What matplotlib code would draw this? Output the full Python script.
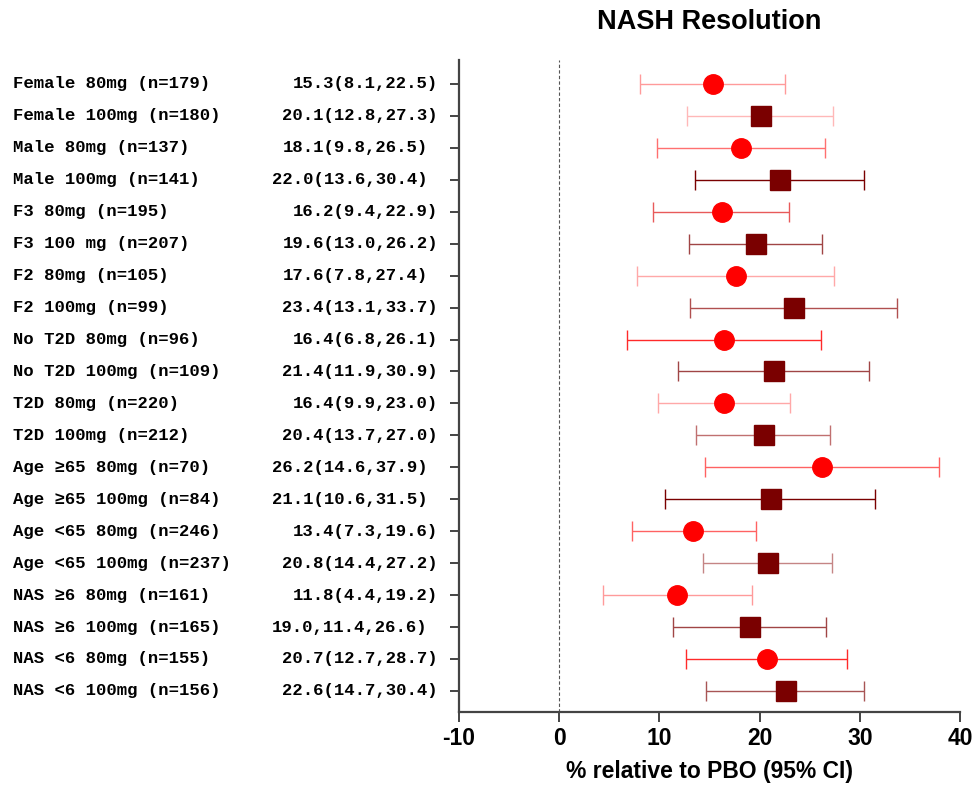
import matplotlib
matplotlib.use("Agg")
import matplotlib.pyplot as plt
import matplotlib.transforms as mtransforms

# Subgroup results: point estimate and 95% CI (% relative to placebo)
subgroups = [
    "Female 80mg (n=179)", "Female 100mg (n=180)",
    "Male 80mg (n=137)", "Male 100mg (n=141)",
    "F3 80mg (n=195)", "F3 100 mg (n=207)",
    "F2 80mg (n=105)", "F2 100mg (n=99)",
    "No T2D 80mg (n=96)", "No T2D 100mg (n=109)",
    "T2D 80mg (n=220)", "T2D 100mg (n=212)",
    "Age \u226565 80mg (n=70)", "Age \u226565 100mg (n=84)",
    "Age <65 80mg (n=246)", "Age <65 100mg (n=237)",
    "NAS \u22656 80mg (n=161)", "NAS \u22656 100mg (n=165)",
    "NAS <6 80mg (n=155)", "NAS <6 100mg (n=156)",
]
estimate = [15.3, 20.1, 18.1, 22.0, 16.2, 19.6, 17.6, 23.4, 16.4, 21.4,
            16.4, 20.4, 26.2, 21.1, 13.4, 20.8, 11.8, 19.0, 20.7, 22.6]
ci_low = [8.1, 12.8, 9.8, 13.6, 9.4, 13.0, 7.8, 13.1, 6.8, 11.9,
          9.9, 13.7, 14.6, 10.6, 7.3, 14.4, 4.4, 11.4, 12.7, 14.7]
ci_high = [22.5, 27.3, 26.5, 30.4, 22.9, 26.2, 27.4, 33.7, 26.1, 30.9,
           23.0, 27.0, 37.9, 31.5, 19.6, 27.2, 19.2, 26.6, 28.7, 30.4]
value_labels = [
    "15.3(8.1,22.5)", "20.1(12.8,27.3)", "18.1(9.8,26.5) ", "22.0(13.6,30.4) ",
    "16.2(9.4,22.9)", "19.6(13.0,26.2)", "17.6(7.8,27.4) ", "23.4(13.1,33.7)",
    "16.4(6.8,26.1)", "21.4(11.9,30.9)", "16.4(9.9,23.0)", "20.4(13.7,27.0)",
    "26.2(14.6,37.9) ", "21.1(10.6,31.5) ", "13.4(7.3,19.6)", "20.8(14.4,27.2)",
    "11.8(4.4,19.2)", "19.0,11.4,26.6) ", "20.7(12.7,28.7)", "22.6(14.7,30.4)",
]
x_ticks = [-10, 0, 10, 20, 30, 40]

# Whisker colours per row
bar_colors = [
    "#ff9a9a", "#ffb8b8", "#ff7070", "#7a0000",
    "#e85a5a", "#a04545", "#ffa8a8", "#b05050",
    "#ff2a2a", "#a04545", "#ffa8a8", "#c07070",
    "#ff6262", "#7a0000", "#ff6262", "#c58585",
    "#ff9a9a", "#a04545", "#ff2a2a", "#a85555",
]

W, H, DPI = 976, 788, 100
fig = plt.figure(figsize=(W / DPI, H / DPI), dpi=DPI)
ax = fig.add_axes([459 / W, 1 - 712 / H, (960 - 459) / W, (712 - 60) / H])

spine_col = "#444444"
for i, (est, lo, hi) in enumerate(zip(estimate, ci_low, ci_high)):
    dose = subgroups[i].split("(")[0]
    is80 = "80" in dose and "100" not in dose
    ax.errorbar([est], [i], xerr=[[est - lo], [hi - est]], fmt="none",
                ecolor=bar_colors[i], elinewidth=1.0, capsize=7, capthick=1.0,
                zorder=2)
    if is80:
        ax.plot([est], [i], marker="o", ms=14, color="#ff0000", mec="#ff0000",
                ls="none", zorder=3)
    else:
        ax.plot([est], [i], marker="s", ms=14.4, color="#7a0000", mec="#7a0000",
                ls="none", zorder=3)

ax.axvline(0, color="#555555", lw=0.8, ls=(0, (3, 2)), zorder=1)

ax.set_xlim(-10, 40)
ax.set_ylim(len(subgroups) - 1 + 0.66, -0.75)
ax.set_xticks(x_ticks)
ax.set_xticklabels([str(t) for t in x_ticks], fontsize=16.5, fontweight="bold",
                   family="Liberation Sans")
ax.set_yticks(range(len(subgroups)))
ax.set_yticklabels([])
ax.tick_params(axis="y", length=6.5, width=1.4, color=spine_col, direction="out")
ax.tick_params(axis="x", length=7, width=1.4, color=spine_col, direction="out",
               pad=4)

for side in ("top", "right"):
    ax.spines[side].set_visible(False)
for side in ("left", "bottom"):
    ax.spines[side].set_color(spine_col)
    ax.spines[side].set_linewidth(1.6)

ax.set_xlabel("% relative to PBO (95% CI)", fontsize=16.5, fontweight="bold",
              family="Liberation Sans", labelpad=7)
ax.set_title("NASH Resolution", fontsize=19.5, fontweight="bold",
             family="Liberation Sans", pad=22)

# Row labels and estimate text in a monospace font
trans = mtransforms.blended_transform_factory(fig.transFigure, ax.transData)
lab_fs = 12.4
for i, (name, val) in enumerate(zip(subgroups, value_labels)):
    ax.text(13 / W, i, name, transform=trans, ha="left", va="center",
            fontsize=lab_fs, fontweight="bold",
            family=["Liberation Mono", "DejaVu Sans Mono"], clip_on=False)
    trailing = len(val) - len(val.rstrip())
    ax.annotate(val.rstrip(), xy=(438 / W, i), xycoords=trans,
                xytext=(-trailing * 0.6 * lab_fs, 0), textcoords="offset points",
                ha="right", va="center", fontsize=lab_fs, fontweight="bold",
                family=["Liberation Mono", "DejaVu Sans Mono"],
                annotation_clip=False)

fig.savefig("out.png", dpi=DPI, facecolor="white")
